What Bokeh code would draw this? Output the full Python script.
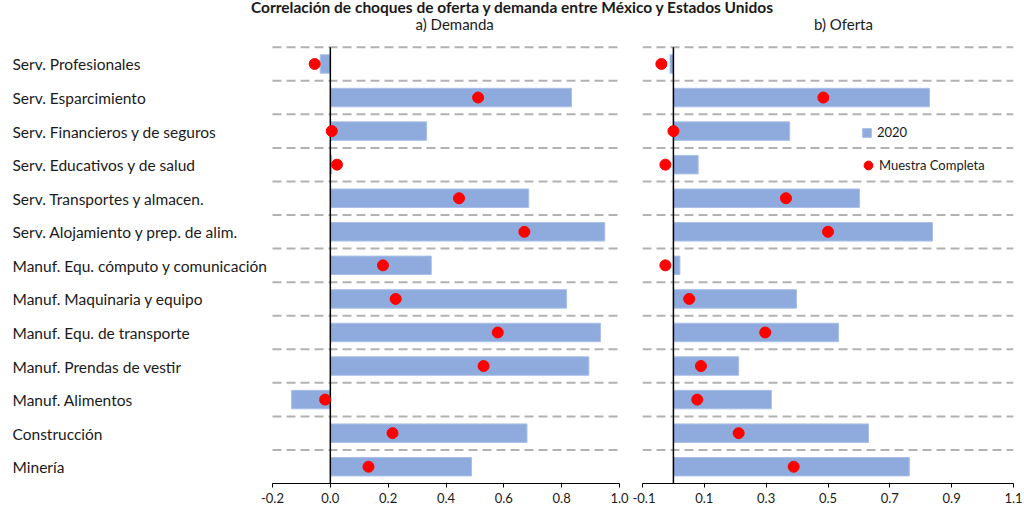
from bokeh.plotting import figure
from bokeh.models import (Range1d, FixedTicker, ColumnDataSource, Legend, LegendItem,
                          Div, NumeralTickFormatter)
from bokeh.layouts import row, column
from bokeh.core.properties import value
from bokeh.embed import file_html
from bokeh.resources import INLINE

# ---------------- data ----------------
categories = [
    "Serv. Profesionales",
    "Serv. Esparcimiento",
    "Serv. Financieros y de seguros",
    "Serv. Educativos y de salud",
    "Serv. Transportes y almacen.",
    "Serv. Alojamiento y prep. de alim.",
    "Manuf. Equ. cómputo y comunicación",
    "Manuf. Maquinaria y equipo",
    "Manuf. Equ. de transporte",
    "Manuf. Prendas de vestir",
    "Manuf. Alimentos",
    "Construcción",
    "Minería",
]
demanda_2020 = [-0.035, 0.834, 0.333, 0.005, 0.686, 0.949, 0.349, 0.817, 0.934, 0.894, -0.134, 0.680, 0.488]
demanda_muestra = [-0.054, 0.511, 0.005, 0.023, 0.445, 0.671, 0.182, 0.226, 0.579, 0.530, -0.018, 0.215, 0.132]
oferta_2020 = [-0.011, 0.828, 0.376, 0.080, 0.602, 0.838, 0.021, 0.398, 0.534, 0.211, 0.317, 0.631, 0.763]
oferta_muestra = [-0.039, 0.485, 0.000, -0.026, 0.364, 0.500, -0.026, 0.051, 0.297, 0.089, 0.077, 0.211, 0.389]
demanda_ticks = [-0.2, 0.0, 0.2, 0.4, 0.6, 0.8, 1.0]
oferta_ticks = [-0.1, 0.1, 0.3, 0.5, 0.7, 0.9, 1.1]
title_text = "Correlación de choques de oferta y demanda entre México y Estados Unidos"
subtitle_demanda = "a) Demanda"
subtitle_oferta = "b) Oferta"
series_names = ["2020", "Muestra Completa"]

# ---------------- styles / layout ----------------
BG = "#d7e9ef"
BAR = "#8faadc"
BAR_EDGE = "#a8bfe8"
DOT = "#ff0000"
GRID = "#b2b2b2"
FONT = "Lato"
TXT = "#1a1a1a"

TITLE_H = 11          # height of the title strip
FIG_H = 510 - TITLE_H
FRAME_BOTTOM = 483    # page y of the x axis
GRID_TOP = 46.7       # page y of the top dashed line

n = len(categories)
ypos = [n - i - 0.5 for i in range(n)]
bounds = list(range(1, n + 1))
row_px = (FRAME_BOTTOM - GRID_TOP) / n
y_top = n + (GRID_TOP - TITLE_H) / row_px
y_sub = n + (GRID_TOP - 23) / row_px


def make_panel(width, canvas_x0, ax_start, ax_end, ax_px0, ax_px1, frame_px0, frame_px1,
               ticks, bars, dots):
    scale = (ax_px1 - ax_px0) / (ax_end - ax_start)
    x_lo = ax_start - (ax_px0 - frame_px0) / scale
    x_hi = ax_end + (frame_px1 - ax_px1) / scale
    p = figure(width=width, height=FIG_H, x_range=Range1d(x_lo, x_hi),
               y_range=Range1d(0, y_top), output_backend="svg", toolbar_location=None,
               y_axis_location=None,
               min_border_left=frame_px0 - canvas_x0,
               min_border_right=canvas_x0 + width - frame_px1,
               min_border_top=0, min_border_bottom=TITLE_H + FIG_H - FRAME_BOTTOM)
    p.background_fill_alpha = 0
    p.border_fill_alpha = 0
    p.outline_line_color = None
    for g in p.grid:
        g.visible = False

    # dashed row separators, limited to the panel's value range
    p.segment(x0=ax_start, x1=ax_end, y0=bounds, y1=bounds,
              line_color=GRID, line_width=2, line_dash="9 5")

    src = ColumnDataSource(dict(y=ypos, bar=bars, dot=dots))
    rb = p.hbar(y="y", left=0, right="bar", height=0.55, source=src,
                fill_color=BAR, line_color=BAR_EDGE, line_width=1)
    p.segment(x0=[0], x1=[0], y0=[0], y1=[n], line_color="black", line_width=1.5)
    rd = p.scatter(x="dot", y="y", source=src, size=11, marker="circle",
                   fill_color=DOT, line_color=DOT)

    ax = p.xaxis[0]
    ax.ticker = FixedTicker(ticks=ticks)
    ax.formatter = NumeralTickFormatter(format="0.0")
    ax.bounds = (ax_start, ax_end)
    ax.axis_line_color = "black"
    ax.axis_line_width = 1
    ax.major_tick_in = 0
    ax.major_tick_out = 4
    ax.major_tick_line_color = "black"
    ax.minor_tick_line_color = None
    ax.major_label_standoff = 5
    ax.major_label_text_font = FONT
    ax.major_label_text_font_size = "13px"
    ax.major_label_text_color = TXT
    return p, rb, rd, scale, x_lo


p1, rb1, rd1, s1, lo1 = make_panel(632, 0, -0.2, 1.0, 272, 619, 0, 619,
                                   demanda_ticks, demanda_2020, demanda_muestra)
p2, rb2, rd2, s2, lo2 = make_panel(392, 632, -0.1, 1.1, 642, 1013, 642, 1013,
                                   oferta_ticks, oferta_2020, oferta_muestra)

# category labels (left aligned at x = 12 px)
lab_src = ColumnDataSource(dict(y=ypos, text=categories))
p1.text(x=lo1 + 12 / s1, y="y", text="text", source=lab_src, y_offset=0.5,
        text_font=value(FONT), text_font_size="15.5px", text_color=TXT,
        text_baseline="middle", text_align="left")

# panel subtitles
p1.text(x=[0.43], y=[y_sub], text=[subtitle_demanda], text_align="center",
        text_baseline="middle", text_font=value(FONT), text_font_size="15px",
        text_color=TXT)
p2.text(x=[0.55], y=[y_sub], text=[subtitle_oferta], text_align="center",
        text_baseline="middle", text_font=value(FONT), text_font_size="15px",
        text_color=TXT)

# legends
leg_common = dict(padding=0, margin=0, border_line_color=None, background_fill_alpha=0,
                  label_text_font=FONT, label_text_font_size="13px",
                  label_text_color=TXT, spacing=0)
leg1 = Legend(items=[LegendItem(label=series_names[0], renderers=[rb2])],
              location=(219, 343), glyph_width=11, glyph_height=11, label_height=11,
              label_standoff=5, **leg_common)
leg2 = Legend(items=[LegendItem(label=series_names[1], renderers=[rd2])],
              location=(215, 307), glyph_width=22, glyph_height=22, label_height=22,
              label_standoff=-6, **leg_common)
p2.add_layout(leg1)
p2.add_layout(leg2)

title_div = Div(
    text=('<div style="width:1010px; padding-left:14px; text-align:center; '
          'font-family:Lato; font-weight:bold; font-size:15.5px; line-height:14px; '
          'color:#1a1a1a; white-space:nowrap;">' + title_text + '</div>'),
    width=1024, height=TITLE_H, margin=(0, 0, 0, 0),
    styles={"overflow": "visible"})

layout = column(title_div, row(p1, p2, spacing=0), spacing=0)

html = file_html(layout, INLINE, title=title_text)
html = html.replace("<body>", '<body style="background-color:%s;">' % BG, 1)
open("out.html", "w").write(html)
